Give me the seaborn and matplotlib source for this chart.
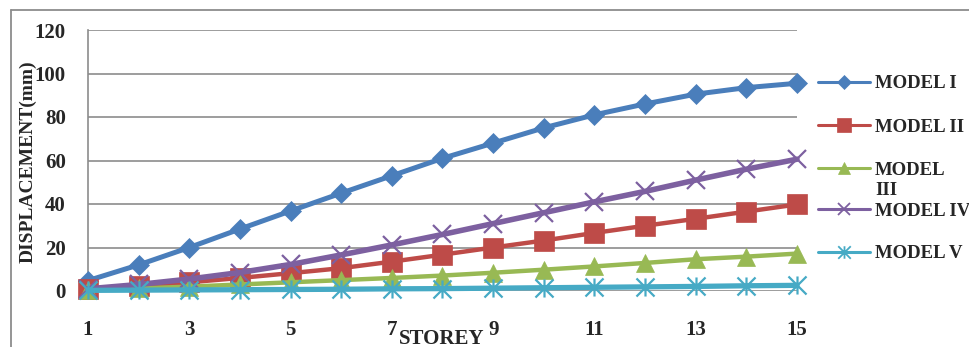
import numpy as np
import pandas as pd
import seaborn as sns
import matplotlib
matplotlib.use("Agg")
import matplotlib.pyplot as plt
from matplotlib.lines import Line2D
from matplotlib.path import Path

# Storey-wise lateral displacement (mm) for five building models
storey = list(range(1, 16))
model_1 = [4.8, 12, 20, 28.5, 36.8, 45, 53, 61, 68, 75, 81, 86, 90.5, 93.5, 95.5]
model_2 = [0.8, 2.2, 4, 6, 8.2, 10.5, 13.5, 16.7, 20, 23.2, 26.7, 30, 33.2, 36.5, 39.8]
model_3 = [0.4, 1.2, 2, 3, 4, 5, 6, 7.1, 8.4, 9.8, 11.3, 12.9, 14.6, 15.8, 17.2]
model_4 = [1, 3, 5.5, 8.5, 12.2, 16.6, 21.2, 26, 31, 36, 41, 45.8, 51, 56, 60.6]
model_5 = [0.3, 0.4, 0.5, 0.6, 0.7, 0.8, 1.0, 1.1, 1.3, 1.5, 1.7, 1.9, 2.1, 2.4, 2.6]

series_names = ["MODEL I", "MODEL II", "MODEL\nIII", "MODEL IV", "MODEL V"]
series_values = [model_1, model_2, model_3, model_4, model_5]
x_ticks = [1, 3, 5, 7, 9, 11, 13, 15]
y_ticks = [0, 20, 40, 60, 80, 100, 120]

colors = ["#4A7EBB", "#BE4B48", "#98B954", "#7D60A0", "#46AAC5"]

# Asterisk marker: vertical bar crossed by an X
asterisk = Path(
    [(0, -0.5), (0, 0.5), (-0.5, -0.5), (0.5, 0.5), (-0.5, 0.5), (0.5, -0.5)],
    [Path.MOVETO, Path.LINETO, Path.MOVETO, Path.LINETO, Path.MOVETO, Path.LINETO],
)
markers = ["D", "s", "^", "x", asterisk]
plot_ms = [10, 14, 13.5, 13, 13]
plot_lw = [3.6, 3.2, 3.2, 4.0, 3.8]
legend_ms = [7, 9.5, 9, 9, 9]

sns.set_style("white")
plt.rcParams["font.family"] = ["Liberation Serif", "DejaVu Serif"]
plt.rcParams["font.weight"] = "bold"

W, H = 970, 347
fig = plt.figure(figsize=(W / 100, H / 100), dpi=100)
ax = fig.add_axes([88 / W, 1 - 291 / H, (797 - 88) / W, (291 - 30) / H])

grid_c = "#8C8C8C"
for yt in y_ticks:
    ax.axhline(yt, color=grid_c, lw=1.2, zorder=1)

df = pd.DataFrame({"storey": storey})
for name, vals, c, m, ms, lw in zip(series_names, series_values, colors, markers, plot_ms, plot_lw):
    df[name] = vals
    line_marker = m in ("x",) or isinstance(m, Path)
    sns.lineplot(
        data=df, x="storey", y=name, ax=ax, color=c, linewidth=lw,
        marker=m, markersize=ms, markeredgecolor=c,
        markeredgewidth=1.6 if line_marker else 0.5,
        markerfacecolor=c, clip_on=False, zorder=3,
    )

ax.set_xlim(1, 15)
ax.set_ylim(0, 120)
ax.set_xticks(x_ticks)
ax.set_yticks(y_ticks)
ax.set_xticklabels([str(v) for v in x_ticks], fontsize=15, fontweight="bold")
ax.set_yticklabels([str(v) for v in y_ticks], fontsize=15, fontweight="bold")
ax.tick_params(axis="x", length=0, pad=21)
ax.tick_params(axis="y", length=0, pad=16)
ax.set_xlabel("")
ax.set_ylabel("")
for side in ("top", "right", "bottom"):
    ax.spines[side].set_visible(False)
ax.spines["left"].set_color(grid_c)
ax.spines["left"].set_linewidth(1.2)
ax.spines["left"].set_bounds(-2.5, 120)

# Axis titles
fig.text(442 / W, 1 - 336 / H, "STOREY", ha="center", va="center_baseline",
         fontsize=15, fontweight="bold")
fig.text(28 / W, 1 - 162 / H, "DISPLACEMENT(mm)", rotation=90, ha="center",
         va="center", fontsize=14, fontweight="bold")

# Legend on the right
legend_y = [82, 125, 168, 209, 252]
for name, c, m, ms, ly in zip(series_names, colors, markers, legend_ms, legend_y):
    yy = 1 - ly / H
    line_marker = m in ("x",) or isinstance(m, Path)
    fig.add_artist(Line2D([818 / W, 870 / W], [yy, yy], color=c, lw=2.2,
                          transform=fig.transFigure))
    fig.add_artist(Line2D([844 / W], [yy], color=c, marker=m, markersize=ms,
                          markerfacecolor=c, markeredgecolor=c,
                          markeredgewidth=1.3 if line_marker else 0.5,
                          transform=fig.transFigure))
    if "\n" in name:
        fig.text(875 / W, 1 - (ly - 6.5) / H, name, ha="left", va="top",
                 fontsize=13.5, fontweight="bold", linespacing=1.25)
    else:
        fig.text(875 / W, 1 - (ly + 6.5) / H, name, ha="left", va="baseline",
                 fontsize=13.5, fontweight="bold")

# Outer chart frame
fig.add_artist(Line2D([11 / W, 11 / W], [1 - 10 / H, 0], color=grid_c, lw=1.3,
                      transform=fig.transFigure))
fig.add_artist(Line2D([11 / W, 1], [1 - 10 / H, 1 - 10 / H], color=grid_c, lw=1.3,
                      transform=fig.transFigure))

fig.savefig("out.png", dpi=100)
